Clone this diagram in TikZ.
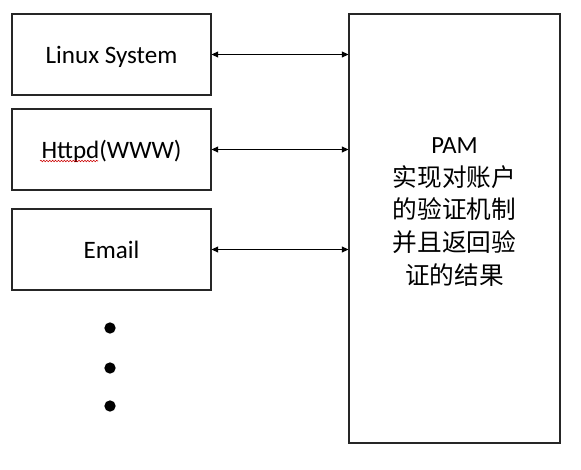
\documentclass[tikz,border=0pt]{standalone}
\usepackage{fontspec}
\setmainfont{Carlito}
\newfontfamily\cjk{Noto Sans CJK SC}
\usetikzlibrary{arrows.meta,decorations.pathmorphing}
\begin{document}
\begin{tikzpicture}[x=0.75pt,y=-0.75pt,
  appbox/.style={draw=black!85,line width=0.8pt,minimum width=149.25pt,minimum height=60.75pt,inner sep=0pt,
    text height=13.2pt,text depth=0pt,font=\fontsize{18.8}{22}\selectfont},
  link/.style={line width=0.8pt,{Triangle[length=5pt,width=4.5pt]}-{Triangle[length=5pt,width=4.5pt]}},
  bigdot/.style={circle,fill=black,minimum size=8.5pt,inner sep=0pt}]
\useasboundingbox (0,0) rectangle (581,470);
\node[appbox] (linux) at (111.5,54.5) {Linux System};
\node[appbox] (httpd) at (111.5,149.5) {Httpd(WWW)};
\node[appbox] (email) at (111.5,249.5) {Email};
\node[draw=black!85,line width=0.8pt,minimum width=158.25pt,minimum height=321.75pt,inner sep=0pt] (pam) at (454.5,228.5) {};
\node[align=center,font=\fontsize{18.5}{24.5}\selectfont] (pamtext) at (454.5,212) {PAM\\{\cjk 实现对账户}\\{\cjk 的验证机制}\\{\cjk 并且返回验}\\{\cjk 证的结果}};
\draw[link] (linux.east) -- (pam.west |- linux.east);
\draw[link] (httpd.east) -- (pam.west |- httpd.east);
\draw[link] (email.east) -- (pam.west |- email.east);
\node[bigdot] (d1) at (110,328) {};
\node[bigdot] (d2) at (110,368) {};
\node[bigdot] (d3) at (110,406) {};
\draw[red!80!black,line width=0.4pt,decorate,decoration={snake,amplitude=0.6pt,segment length=2.2pt}] (40,161) -- (98,161);
\end{tikzpicture}
\end{document}
